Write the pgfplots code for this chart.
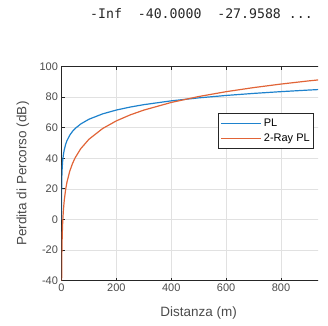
\documentclass[border=0pt]{standalone}
\usepackage{pgfplots}
\pgfplotsset{compat=1.18}
\usepackage{fontspec}
\setmainfont{Liberation Sans}
\newfontfamily\monofont{DejaVu Sans Mono}
\definecolor{mblue}{RGB}{30,130,205}
\definecolor{morange}{RGB}{225,100,55}
\definecolor{axgray}{RGB}{38,38,38}
\definecolor{txtgray}{RGB}{75,75,75}
\definecolor{gridgray}{RGB}{225,225,225}
\begin{document}
\begin{tikzpicture}
\path[use as bounding box] (0pt,0pt) rectangle (328pt,325pt);
\node[anchor=base west, font=\monofont\fontsize{13.2}{13.2}\selectfont, text=black!85, inner sep=0pt] at (90pt,306.7pt) {-Inf\ \ -40.0000\ \ -27.9588 ...};
\begin{scope}
\clip (0pt,0pt) rectangle (318pt,325pt);
\begin{axis}[
  at={(61.5pt,44.5pt)}, anchor=south west,
  scale only axis, width=274.4pt, height=214pt,
  xmin=0, xmax=1000, ymin=-40, ymax=100,
  xtick={0,200,...,800}, ytick={-40,-20,...,100},
  grid=major, major grid style={gridgray, line width=0.5pt},
  axis line style={axgray, line width=0.6pt},
  tick style={axgray, line width=0.6pt}, tick align=inside, major tick length=3pt,
  ticklabel style={font=\fontsize{11}{11}\selectfont, text=txtgray},
  /pgf/number format/assume math mode=true,
  xlabel={Distanza (m)}, ylabel={Perdita di Percorso (dB)},
  label style={font=\fontsize{13.5}{13.5}\selectfont, text=txtgray},
  xlabel style={at={(axis description cs:0.5,-0.166)}, anchor=base},
  ylabel style={at={(axis description cs:-0.1403,0.5)}, anchor=center},
  legend image code/.code={\draw[#1, line width=1.2pt] (0pt,0pt) -- (40pt,0pt);},
  legend cell align=left,
  legend style={at={(axis description cs:0.5714,0.781)}, anchor=north west,
    draw=axgray, line width=0.8pt, fill=white, font=\fontsize{11}{11}\selectfont,
    inner xsep=2pt, inner ysep=2.75pt, row sep=0.5pt,
    nodes={inner sep=2pt, text height=8pt, text depth=2.5pt, text=black}},
]
\addplot[mblue, line width=1.2pt] coordinates {
(0.05,-0.52) (0.1,5.50) (0.2,11.52) (0.3,15.04) (0.5,19.48) (0.7,22.40) (1,25.50)
(1.5,29.02) (2,31.52) (3,35.04) (4,37.54) (5,39.48) (7,42.40) (10,45.50)
(15,49.02) (20,51.52) (30,55.04) (40,57.54) (50,59.48) (70,62.40) (100,65.50)
(150,69.02) (200,71.52) (250,73.46) (300,75.04) (400,77.54) (500,79.48)
(600,81.06) (700,82.40) (800,83.56) (900,84.58) (1000,85.50)};
\addlegendentry{PL}
\addplot[morange, line width=1.2pt] coordinates {
(0.4,-43.52) (0.5,-39.64) (0.7,-33.80) (1,-27.60) (1.5,-20.56) (2,-15.56)
(3,-8.52) (4,-3.52) (5,0.36) (7,6.20) (10,12.40) (15,19.44) (20,24.44)
(30,31.48) (40,36.48) (50,40.36) (70,46.20) (100,52.40) (150,59.44)
(200,64.44) (250,68.32) (300,71.48) (400,76.48) (500,80.36) (600,83.53)
(700,86.20) (800,88.52) (900,90.57) (1000,92.40)};
\addlegendentry{2-Ray PL}
\end{axis}
\end{scope}
\end{tikzpicture}
\end{document}
